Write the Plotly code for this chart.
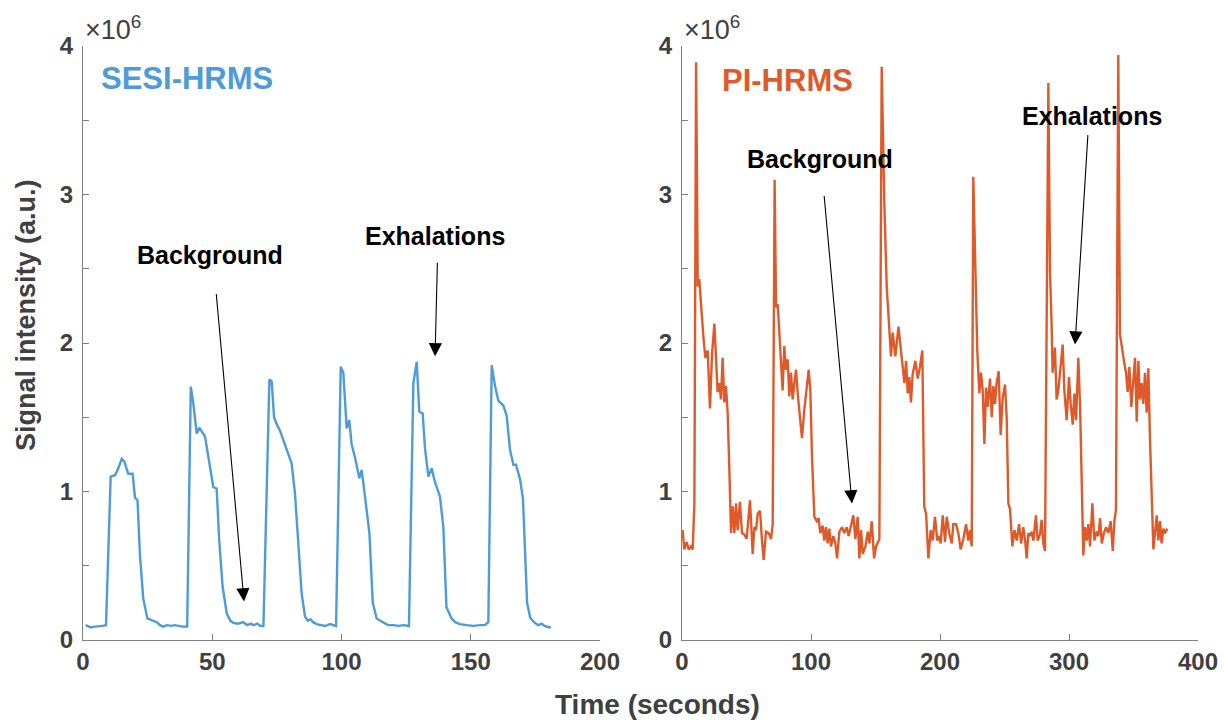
import plotly.graph_objects as go
from plotly.subplots import make_subplots

BLUE = "#4D9BD9"
ORANGE = "#DF5A2A"
AXIS_GREY = "#808080"
TEXT_GREY = "#404040"
FONT = "Liberation Sans, Arial, Helvetica, sans-serif"

# SESI-HRMS trace (time in s, signal in units of 1e6 a.u.)
sesi_time = [
    1.0, 2.0, 3.0, 4.5, 6.0, 7.5, 8.9, 10.7, 12.4, 13.5, 15.0, 16.0, 17.5, 19.2,
    20.1, 21.1, 22.0, 23.3, 24.9, 27.2, 28.5, 29.8, 31.0, 32.5, 34.0, 35.5, 37.0,
    38.5, 40.3, 41.7, 42.7, 44.0, 45.0, 46.5, 47.2, 48.9, 50.4, 51.7, 52.7, 54.0,
    55.6, 57.0, 58.1, 60.0, 62.0, 63.5, 65.0, 65.9, 67.5, 68.5, 69.8, 72.1, 73.0,
    73.9, 75.0, 76.2, 78.1, 80.7, 82.0, 83.3, 84.6, 85.9, 87.0, 88.1, 89.0, 90.4,
    92.0, 93.6, 95.6, 97.9, 99.7, 100.7, 102.0, 103.0, 103.9, 105.2, 106.9, 107.8,
    109.1, 110.8, 112.1, 113.6, 115.0, 116.2, 118.0, 120.1, 122.0, 124.0, 126.1,
    127.8, 129.1, 130.1, 131.4, 132.3, 133.6, 134.9, 136.1, 138.1, 139.4, 140.6,
    142.6, 144.0, 145.8, 148.4, 151.0, 153.6, 155.5, 156.8, 158.1, 159.4, 160.7,
    162.6, 163.9, 165.2, 166.5, 167.5, 169.1, 170.2, 171.0, 171.8, 173.0, 174.5,
    176.0, 177.5, 178.5, 179.5, 180.5, 181.0,
]
sesi_signal = [
    0.10, 0.09, 0.085, 0.09, 0.09, 0.095, 0.10, 1.10, 1.11, 1.15, 1.22, 1.20, 1.12, 1.12,
    0.96, 0.94, 0.58, 0.28, 0.145, 0.13, 0.12, 0.10, 0.09, 0.10, 0.095, 0.10, 0.095,
    0.09, 0.09, 1.706, 1.59, 1.39, 1.43, 1.39, 1.37, 1.19, 1.03, 1.02, 0.67, 0.36,
    0.18, 0.13, 0.116, 0.11, 0.12, 0.10, 0.11, 0.10, 0.11, 0.095, 0.094, 1.755, 1.74,
    1.50, 1.45, 1.41, 1.32, 1.19, 0.988, 0.63, 0.31, 0.157, 0.13, 0.139, 0.12, 0.107,
    0.10, 0.094, 0.107, 0.094, 1.84, 1.80, 1.425, 1.48, 1.32, 1.23, 1.09, 1.145,
    0.965, 0.72, 0.25, 0.145, 0.13, 0.116, 0.10, 0.10, 0.095, 0.10, 0.094,
    1.73, 1.874, 1.537, 1.525, 1.29, 1.10, 1.156, 1.066, 0.965, 0.76, 0.22,
    0.145, 0.12, 0.107, 0.10, 0.095, 0.10, 0.10, 0.12, 1.85, 1.71, 1.61,
    1.58, 1.51, 1.28, 1.18, 1.18, 1.08, 0.95, 0.55, 0.25, 0.15, 0.12,
    0.10, 0.11, 0.095, 0.09, 0.085, 0.09,
]

# PI-HRMS trace
pi_time = [
    0.5, 1.8, 3.6, 5.2, 7.0, 8.3, 9.6, 10.9, 11.6, 12.2, 13.4, 14.7, 16.0, 16.8,
    18.1, 19.9, 21.7, 23.3, 25.1, 26.4, 27.6, 29.0, 30.2, 31.5, 32.8, 34.1, 35.4,
    36.7, 38.0, 39.3, 40.6, 41.9, 43.1, 44.9, 46.5, 48.3, 50.1, 52.7, 54.8, 56.1,
    57.4, 58.7, 60.5, 62.0, 63.3, 65.1, 67.2, 69.0, 70.3, 71.8, 72.9, 74.2, 75.5,
    76.8, 78.0, 79.3, 80.6, 81.9, 83.2, 84.5, 85.8, 87.1, 88.4, 89.7, 90.9, 93.0,
    94.8, 96.6, 98.2, 99.5, 100.8, 102.6, 104.4, 105.9, 107.2, 109.0, 110.3, 111.6,
    112.9, 114.2, 115.5, 117.3, 118.9, 120.2, 122.0, 124.1, 125.8, 127.7, 129.2,
    131.0, 132.8, 134.4, 136.2, 137.5, 138.8, 140.1, 142.2, 144.0, 145.3, 147.1,
    148.9, 150.4, 153.0, 154.8, 156.9, 158.7, 160.7, 162.0, 163.3, 165.4, 167.8,
    169.8, 171.1, 172.4, 173.7, 175.0, 176.2, 177.5, 178.8, 180.9, 182.7, 184.5,
    186.3, 187.8, 189.2, 191.0, 192.8, 194.3, 196.1, 197.9, 199.5, 200.5, 202.1,
    203.9, 205.2, 207.2, 209.1, 210.3, 212.4, 214.2, 216.0, 218.1, 220.2, 221.9,
    223.2, 224.6, 225.8, 228.4, 228.9, 230.5, 231.8, 233.1, 234.4, 235.7, 236.9,
    238.8, 240.1, 241.4, 242.6, 243.9, 245.5, 247.0, 248.6, 250.4, 251.7, 253.0,
    254.3, 256.1, 257.7, 259.5, 261.3, 262.9, 264.6, 266.0, 267.2, 268.5, 269.8,
    271.1, 272.4, 274.4, 275.7, 277.5, 278.8, 280.1, 281.4, 284.0, 285.3, 286.5,
    287.3, 289.1, 290.4, 291.7, 293.0, 295.1, 296.4, 298.2, 300.0, 301.3, 302.9,
    304.2, 305.5, 307.2, 308.6, 309.8, 311.1, 312.4, 313.7, 315.0, 316.3, 318.1,
    319.7, 321.5, 322.8, 324.1, 325.4, 327.1, 328.7, 330.5, 332.3, 333.9, 335.2,
    336.4, 338.2, 339.5, 340.8, 342.6, 344.2, 345.5, 346.8, 348.3, 349.9, 351.2,
    352.5, 353.8, 355.0, 356.3, 357.6, 358.9, 360.2, 361.5, 362.8, 364.1, 365.4,
    366.7, 368.0, 369.3, 370.6, 371.8, 373.1, 374.4, 376.2,
]
pi_signal = [
    0.74, 0.61, 0.66, 0.61, 0.63, 0.61, 0.92, 3.89, 3.14, 2.38, 2.43, 2.24, 2.11, 2.02,
    1.90, 1.95, 1.56, 1.93, 2.13, 1.89, 1.67, 1.73, 1.62, 1.90, 1.60, 1.71, 1.53,
    1.15, 0.72, 0.90, 0.72, 0.92, 0.74, 0.93, 0.72, 0.71, 0.68, 0.94, 0.58, 0.76,
    0.74, 0.85, 0.87, 0.67, 0.54, 0.73, 0.72, 0.68, 0.78, 3.10, 2.24, 2.26, 2.07,
    1.84, 1.68, 1.98, 1.82, 1.89, 1.64, 1.80, 1.62, 1.73, 1.82, 1.66, 1.55, 1.36,
    1.55, 1.71, 1.82, 1.68, 1.23, 0.83, 0.80, 0.82, 0.72, 0.77, 0.67, 0.76,
    0.65, 0.75, 0.63, 0.70, 0.65, 0.55, 0.73, 0.76, 0.72, 0.76, 0.70,
    0.77, 0.84, 0.68, 0.83, 0.55, 0.74, 0.58, 0.63, 0.73, 0.65, 0.80,
    0.55, 0.63, 0.68, 3.86, 2.92, 2.38, 2.07, 1.91, 2.07, 1.91, 2.11,
    1.93, 1.86, 1.73, 1.88, 1.66, 1.77, 1.60, 1.79, 1.88, 1.76, 1.84,
    1.95, 0.90, 0.85, 0.55, 0.74, 0.67, 0.83, 0.67, 0.70, 0.65, 0.84,
    0.66, 0.83, 0.72, 0.65, 0.78, 0.78, 0.72, 0.61, 0.68, 0.78, 0.67,
    0.74, 0.63, 3.12, 2.08, 1.95, 1.66, 1.80, 1.68, 1.32, 1.70, 1.57,
    1.76, 1.50, 1.71, 1.59, 1.73, 1.81, 1.38, 1.63, 1.72, 1.50, 0.92,
    0.88, 0.63, 0.74, 0.67, 0.78, 0.65, 0.76, 0.67, 0.55, 0.72, 0.70,
    0.73, 0.67, 0.84, 0.67, 0.71, 0.81, 0.65, 0.60, 3.75, 2.47, 2.13,
    1.80, 1.97, 1.62, 1.68, 1.82, 1.99, 1.68, 1.48, 1.77, 1.59, 1.45,
    1.66, 1.48, 1.90, 1.57, 1.12, 0.57, 0.76, 0.67, 0.78, 0.63, 0.92,
    0.67, 0.73, 0.70, 0.82, 0.65, 0.72, 0.76, 0.72, 0.80, 0.60, 0.80,
    0.88, 3.94, 2.06, 1.97, 1.88, 1.80, 1.67, 1.84, 1.57, 1.75, 1.90,
    1.47, 1.88, 1.62, 1.73, 1.59, 1.80, 1.53, 1.83, 1.35, 0.90, 0.61,
    0.72, 0.84, 0.67, 0.80, 0.65, 0.75, 0.72, 0.75,
]

# y ticks every 0.5e6, labelled on whole millions only
y_tickvals = [0, 0.5, 1, 1.5, 2, 2.5, 3, 3.5, 4]
y_ticktext = ["0", "", "1", "", "2", "", "3", "", "4"]
sesi_xticks = [0, 50, 100, 150, 200]
pi_xticks = [0, 100, 200, 300, 400]

W, H = 1224, 720

fig = make_subplots(rows=1, cols=2)

fig.add_trace(go.Scatter(x=sesi_time, y=sesi_signal, mode="lines",
                         line=dict(color=BLUE, width=2.4), showlegend=False),
              row=1, col=1)
fig.add_trace(go.Scatter(x=pi_time, y=pi_signal, mode="lines",
                         line=dict(color=ORANGE, width=2.4), showlegend=False),
              row=1, col=2)

tick_font = dict(family=FONT, size=24, color=TEXT_GREY, weight="bold")
axis_common = dict(showline=True, linecolor=AXIS_GREY, linewidth=1.3, mirror=False,
                   ticks="inside", ticklen=6, tickwidth=1, tickcolor=AXIS_GREY,
                   showgrid=False, zeroline=False, tickfont=tick_font,
                   automargin=False)

fig.update_xaxes(range=[0, 200], tickvals=sesi_xticks, domain=[83 / W, 600 / W],
                 **axis_common, row=1, col=1)
fig.update_xaxes(range=[0, 400], tickvals=pi_xticks, domain=[682 / W, 1198 / W],
                 **axis_common, row=1, col=2)
fig.update_yaxes(range=[0, 4], tickvals=y_tickvals, ticktext=y_ticktext,
                 domain=[80 / H, 674 / H], ticklabelstandoff=4, **axis_common)

label_font = dict(family=FONT, size=25, color="black", weight="bold")
annotations = [
    # panel names
    dict(x=6.2, y=3.78, xref="x", yref="y", text="SESI-HRMS", showarrow=False,
         xanchor="left", font=dict(family=FONT, size=31, color=BLUE, weight="bold")),
    dict(x=29.5, y=3.77, xref="x2", yref="y2", text="PI-HRMS", showarrow=False,
         xanchor="left", font=dict(family=FONT, size=31, color=ORANGE, weight="bold")),
    # labels
    dict(x=49.3, y=2.59, xref="x", yref="y", text="Background", showarrow=False, font=label_font),
    dict(x=136.0, y=2.72, xref="x", yref="y", text="Exhalations", showarrow=False, font=label_font),
    dict(x=107.0, y=3.24, xref="x2", yref="y2", text="Background", showarrow=False, font=label_font),
    dict(x=317.8, y=3.53, xref="x2", yref="y2", text="Exhalations", showarrow=False, font=label_font),
    # axis titles
    dict(x=26 / W, y=1 - 315 / H, xref="paper", yref="paper", text="Signal intensity (a.u.)",
         textangle=-90, showarrow=False, xanchor="center", yanchor="middle",
         font=dict(family=FONT, size=27, color=TEXT_GREY, weight="bold")),
    dict(x=657 / W, y=1 - 704 / H, xref="paper", yref="paper", text="Time (seconds)",
         showarrow=False, xanchor="center", yanchor="middle",
         font=dict(family=FONT, size=28, color=TEXT_GREY, weight="bold")),
    # exponent labels
    dict(x=83 / W, y=1 - 47 / H, xref="paper", yref="paper", xanchor="left", yanchor="bottom",
         text="×10<sup>6</sup>", showarrow=False,
         font=dict(family=FONT, size=27, color=TEXT_GREY)),
    dict(x=682 / W, y=1 - 47 / H, xref="paper", yref="paper", xanchor="left", yanchor="bottom",
         text="×10<sup>6</sup>", showarrow=False,
         font=dict(family=FONT, size=27, color=TEXT_GREY)),
]

# arrows: (head x, head y, tail x, tail y, axis suffix)
arrows = [
    (62.3, 0.26, 51.5, 2.34, ""),
    (136.2, 1.91, 137.1, 2.55, ""),
    (131.8, 0.92, 110.1, 3.0, "2"),
    (304.7, 1.99, 314.7, 3.41, "2"),
]
for hx, hy, tx, ty, s in arrows:
    annotations.append(dict(x=hx, y=hy, ax=tx, ay=ty, xref="x" + s, yref="y" + s,
                            axref="x" + s, ayref="y" + s, text="", showarrow=True,
                            arrowhead=2, arrowsize=2.4, arrowwidth=1.1,
                            arrowcolor="black"))

fig.update_layout(
    width=W, height=H,
    margin=dict(l=0, r=0, t=0, b=0),
    paper_bgcolor="white",
    plot_bgcolor="white",
    annotations=annotations,
    font=dict(family=FONT),
)

# drop the browser's default body margin so the figure sits at the page origin
fig.write_html("out.html", config={"displayModeBar": False},
               post_script="document.body.style.margin='0';document.body.style.overflow='hidden';")
